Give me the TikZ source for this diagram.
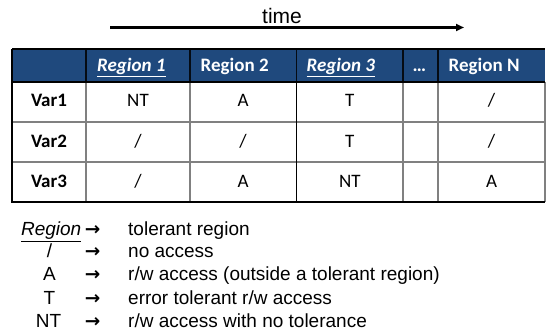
\documentclass[tikz,border=0pt]{standalone}
\usepackage{fontspec}
\setmainfont{Liberation Sans}
\newfontfamily\calib{Carlito}
\newfontfamily\arrowfont{DejaVu Sans}
\usetikzlibrary{arrows.meta}
\definecolor{hdrblue}{HTML}{1F497D}
\definecolor{gridgray}{HTML}{808080}
\tikzset{
  cell/.style={font=\calib\fontsize{19}{21}\selectfont, text height=13pt, text depth=0pt, inner sep=0pt, anchor=center},
  hdr/.style={cell, anchor=west, text=white, font=\calib\bfseries\fontsize{19}{21}\selectfont},
  rowlab/.style={cell, font=\calib\bfseries\fontsize{19}{21}\selectfont},
  leg/.style={font=\fontsize{19}{21}\selectfont, text height=13.5pt, text depth=4pt, inner sep=0pt},
  legarrow/.style={font=\arrowfont\bfseries\fontsize{18.5}{20}\selectfont, inner sep=0pt},
  gline/.style={draw=gridgray, line width=1.2pt},
  bline/.style={draw=black, line width=1.2pt}
}
\begin{document}
\begin{tikzpicture}[x=1pt,y=-1pt]
\useasboundingbox (0,0) rectangle (546,334);
% time arrow
\coordinate (ts) at (110,27.5);
\coordinate (te) at (464,27.5);
\draw[line width=2.2pt, -{Triangle[length=8pt,width=7pt]}] (ts) -- (te);
\node[font=\fontsize{21}{23}\selectfont, inner sep=0pt, anchor=base] (time) at (282,23.5) {time};
% header background
\fill[hdrblue] (12,49) rectangle (545,82);
% grid
\draw[gline] (12,122) -- (545,122);
\draw[gline] (12,162) -- (545,162);
\foreach \x in {86,190,403,438}{\draw[gline] (\x,82) -- (\x,202);}
\draw[gline] (545,82) -- (545,202);
\draw[bline] (296.5,82) -- (296.5,202);
\foreach \x in {86,190,296.5,403,438}{\draw[draw=black!85!hdrblue, line width=1.2pt] (\x,49) -- (\x,82);}
\draw[bline] (12,49) -- (545,49);
\draw[bline] (12,82) -- (545,82);
\draw[bline] (12,49) -- (12,202) -- (545,202);
% header
\node[hdr] (h1) at (97,65.5) {\underline{\itshape Region 1}};
\node[hdr] (h2) at (200.5,65.5) {Region 2};
\node[hdr] (h3) at (306.5,65.5) {\underline{\itshape Region 3}};
\node[hdr] (h4) at (412.5,65.5) {\ldots};
\node[hdr] (h5) at (448.5,65.5) {Region N};
% rows
\node[rowlab] (v1) at (49,100.5) {Var1};
\node[cell] (c11) at (138,100.5) {NT};
\node[cell] (c12) at (243,100.5) {A};
\node[cell] (c13) at (349.8,100.5) {T};
\node[cell] (c15) at (491.5,100.5) {/};
\node[rowlab] (v2) at (49,140.5) {Var2};
\node[cell] (c21) at (138,140.5) {/};
\node[cell] (c22) at (243,140.5) {/};
\node[cell] (c23) at (349.8,140.5) {T};
\node[cell] (c25) at (491.5,140.5) {/};
\node[rowlab] (v3) at (49,180.5) {Var3};
\node[cell] (c31) at (138,180.5) {/};
\node[cell] (c32) at (243,180.5) {A};
\node[cell] (c33) at (349.8,180.5) {NT};
\node[cell] (c35) at (491.5,180.5) {A};
% legend
\node[leg, anchor=east] (ls1) at (81.5,231) {\underline{\itshape Region}};
\node[leg] (ls2) at (49.5,253) {/};
\node[leg] (ls3) at (49.5,276) {A};
\node[leg] (ls4) at (49.5,299.5) {T};
\node[leg] (ls5) at (48.5,322.5) {NT};
\foreach \y [count=\i] in {231,253,276,299.5,322.5}{
  \node[legarrow] (la\i) at (92.5,\y) {→};
}
\node[leg, anchor=west] (ld1) at (128,231) {tolerant region};
\node[leg, anchor=west] (ld2) at (128,253) {no access};
\node[leg, anchor=west] (ld3) at (128,276) {r/w access (outside a tolerant region)};
\node[leg, anchor=west] (ld4) at (128,299.5) {error tolerant r/w access};
\node[leg, anchor=west] (ld5) at (128,322.5) {r/w access with no tolerance};
\end{tikzpicture}
\end{document}
